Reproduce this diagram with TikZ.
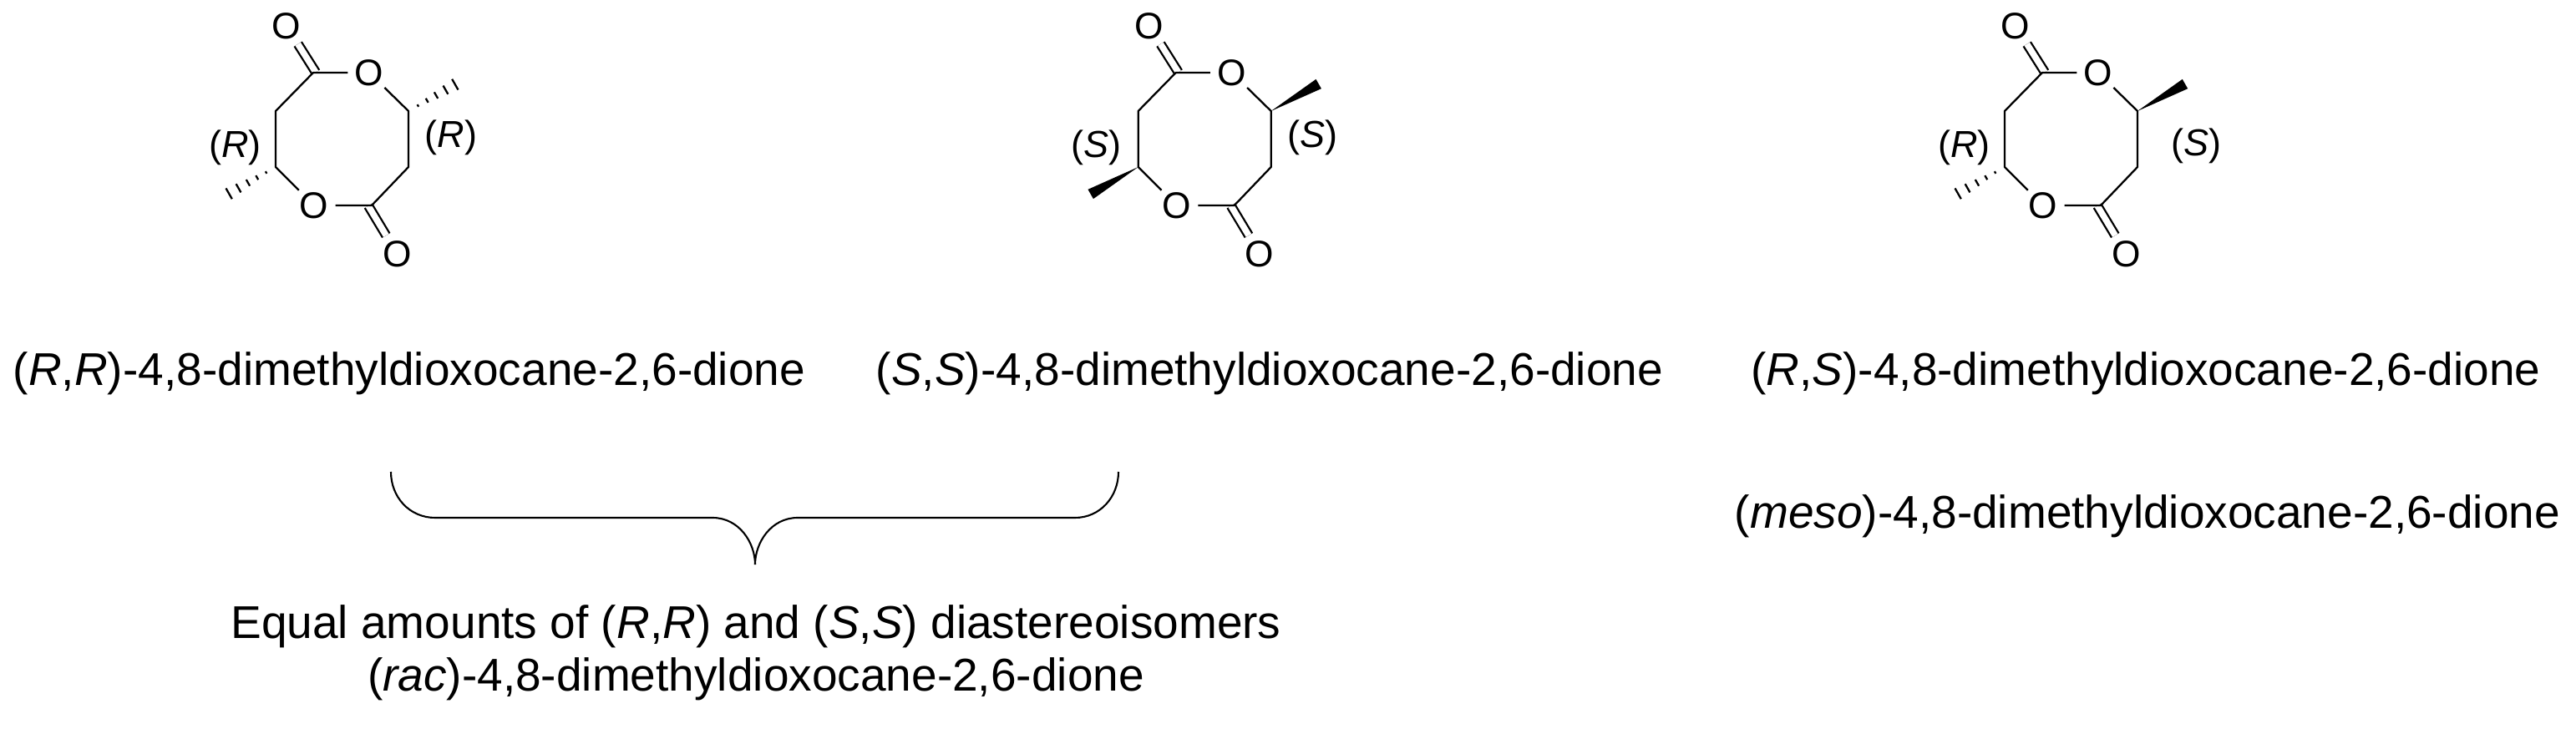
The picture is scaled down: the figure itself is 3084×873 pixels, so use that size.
\documentclass[tikz,border=0pt]{standalone}
\usepackage{fontspec}
\setmainfont{Liberation Sans}
\usetikzlibrary{calc}
\tikzset{
  atom/.style={circle,inner sep=0pt,minimum size=0.5cm,font=\fontsize{12.6}{15}\selectfont},
  stereo/.style={inner sep=0pt,font=\fontsize{12.8}{15}\selectfont},
  caption/.style={inner sep=0pt,anchor=base,align=center,font=\fontsize{15.65}{17.64}\selectfont},
  bond/.style={line width=0.65pt,line join=round},
  carbonyl/.style={bond,double,double distance=0.075cm},
  brace/.style={line width=0.6pt}
}
% one ring: nodes get the prefix #1
\newcommand{\dioxocane}[1]{
  \coordinate (#1c2) at (375,87);
  \coordinate (#1k2) at (378,86.5);
  \coordinate (#1c3) at (330,133);
  \coordinate (#1c4) at (330,200);
  \coordinate (#1c6) at (445,246);
  \coordinate (#1k6) at (441,246.5);
  \coordinate (#1c7) at (489,200);
  \coordinate (#1c8) at (489,133);
  \coordinate (#1me4) at (273,232.5);
  \coordinate (#1me8) at (546,100.5);
  \node[atom] (#1o1) at (442,87) {O};
  \node[atom] (#1o5) at (376,246) {O};
  \node[atom] (#1o2) at (343,31) {O};
  \node[atom] (#1o6) at (475.5,304) {O};
  \draw[carbonyl] (#1k2) -- (#1o2);
  \draw[carbonyl] (#1k6) -- (#1o6);
  \draw[bond] (#1o1) -- (#1c2) -- (#1c3) -- (#1c4) -- (#1o5);
  \draw[bond] (#1o5) -- (#1c6) -- (#1c7) -- (#1c8) -- (#1o1);
}
\newcommand{\hashbond}[2]{
  \foreach \t in {0.2,0.39,0.58,0.78,0.98}
    \draw[bond] ($(#1)!\t!(#2)!{\t*0.075cm}!90:(#2)$) -- ($(#1)!\t!(#2)!{\t*0.075cm}!-90:(#2)$);
}
\newcommand{\wedgebond}[2]{
  \fill (#1) -- ($(#2)!0.065cm!90:(#1)$) -- ($(#2)!0.065cm!-90:(#1)$) -- cycle;
}
\begin{document}
\begin{tikzpicture}[x=0.01cm,y=-0.01cm]
  \useasboundingbox (0,0) rectangle (3084,873);
  \begin{scope}
    \dioxocane{a}
    \hashbond{ac4}{ame4}
    \hashbond{ac8}{ame8}
  \end{scope}
  \begin{scope}[shift={(1032.7,0)}]
    \dioxocane{b}
    \wedgebond{bc4}{bme4}
    \wedgebond{bc8}{bme8}
  \end{scope}
  \begin{scope}[shift={(2070,0)}]
    \dioxocane{c}
    \hashbond{cc4}{cme4}
    \wedgebond{cc8}{cme8}
  \end{scope}
  % stereo labels
  \node[stereo] (al) at (281.7,176.7) {(\textit{R})};
  \node[stereo] (ar) at (540,165) {(\textit{R})};
  \node[stereo] (bl) at (1312.7,176.7) {(\textit{S})};
  \node[stereo] (br) at (1571.7,165) {(\textit{S})};
  \node[stereo] (cl) at (2351.7,176.7) {(\textit{R})};
  \node[stereo] (cr) at (2629.3,175) {(\textit{S})};
  % names
  \node[caption] (namea) at (490,462) {(\textit{R},\textit{R})-4,8-dimethyldioxocane-2,6-dione};
  \node[caption] (nameb) at (1520,462) {(\textit{S},\textit{S})-4,8-dimethyldioxocane-2,6-dione};
  \node[caption] (namec) at (2569,462) {(\textit{R},\textit{S})-4,8-dimethyldioxocane-2,6-dione};
  \node[caption] (named) at (2571,632) {(\textit{meso})-4,8-dimethyldioxocane-2,6-dione};
  \node[caption] (namee) at (905,827) {Equal amounts of (\textit{R},\textit{R}) and (\textit{S},\textit{S}) diastereoisomers\\(\textit{rac})-4,8-dimethyldioxocane-2,6-dione};
  % brace
  \coordinate (bracel) at (468,565);
  \coordinate (bracem) at (904,676);
  \coordinate (bracer) at (1339,565);
  \draw[brace] (bracel) .. controls (468,595) and (490,620) .. (521,620) -- (853,620)
    .. controls (885,620) and (904,650) .. (bracem);
  \draw[brace] (bracer) .. controls (1339,595) and (1317,620) .. (1287,620) -- (955,620)
    .. controls (923,620) and (904,650) .. (bracem);
\end{tikzpicture}
\end{document}
